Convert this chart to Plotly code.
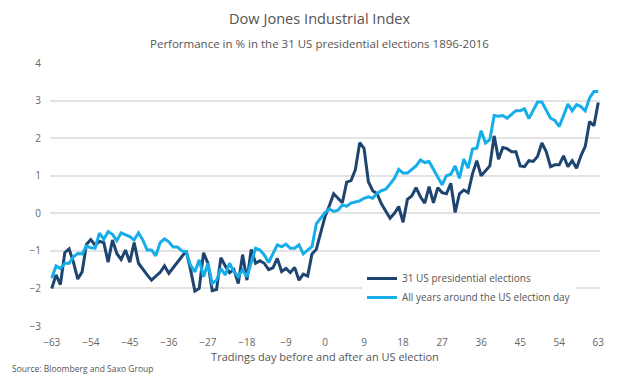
import plotly.graph_objects as go

days = list(range(-63, 64))

elections = [
    -2.0, -1.64, -1.9, -1.05, -0.95, -1.3, -1.75, -1.56, -0.83, -0.7,
    -0.85, -0.75, -0.78, -1.3, -0.71, -1.07, -1.23, -0.98, -1.3, -0.78,
    -1.33, -1.5, -1.64, -1.78, -1.68, -1.57, -1.4, -1.6, -1.45, -1.3,
    -1.15, -1.0, -1.5, -2.07, -2.0, -1.05, -1.33, -2.06, -2.03, -1.18,
    -1.4, -1.58,
    -1.5, -1.87, -1.1, -1.78, -0.96, -1.33, -1.26, -1.33, -1.5, -1.45,
    -1.2, -1.55, -1.47, -1.58, -1.44, -1.78, -1.62, -1.67, -1.08, -0.96,
    -0.52, -0.09, 0.2, 0.52, 0.4, 0.28, 0.83, 0.87, 1.16, 1.88,
    1.73, 0.84, 0.6, 0.52, 0.25, 0.04, -0.13, 0.0, 0.18,
    -0.24, 0.37, 0.46, 0.68, 0.44, 0.27, 0.71, 0.28, 0.68, 0.55,
    0.52, 0.8, 0.02, 0.52, 0.62, 0.55, 1.05, 1.4, 1.0, 1.14,
    1.26, 2.06, 1.44, 1.75, 1.72, 1.64, 1.64, 1.26, 1.24, 1.4,
    1.38, 1.51, 1.87, 1.64, 1.24, 1.29, 1.29, 1.53, 1.24, 1.4,
    1.2, 1.53, 1.78, 2.44, 2.33, 2.95,
]

all_years = [
    -1.73, -1.4, -1.47, -1.33, -1.33, -1.16, -1.07, -1.08, -0.87, -0.92,
    -0.93, -0.53, -0.69, -0.49, -0.56, -0.73, -0.52, -0.58, -0.62,
    -0.71, -0.52, -0.71, -0.98, -0.98, -1.13, -0.78, -0.68, -0.76, -0.9,
    -0.9, -1.0, -1.02, -1.38, -1.56, -1.24, -1.69, -1.33, -1.87, -1.78,
    -1.47, -1.64, -1.33,
    -1.55, -1.69, -1.51, -1.69, -1.33, -0.93, -0.98, -1.11, -1.31, -1.08,
    -0.84, -0.89, -0.82, -0.93, -0.93, -0.84, -1.08, -0.98, -0.89,
    -0.28, -0.13, 0.02, 0.12, 0.05, 0.08, 0.22, 0.19, 0.27, 0.3,
    0.33, 0.4, 0.44, 0.4, 0.53, 0.6, 0.64, 0.78, 0.93, 1.17,
    1.07, 1.07, 1.16, 1.26, 1.42, 1.35, 1.38, 1.17, 0.98, 0.76,
    1.0, 1.04, 1.26, 0.93, 1.44, 1.2, 1.71, 1.73, 2.2, 1.87,
    1.96, 2.6, 2.58, 2.6, 2.53, 2.62, 2.73, 2.73, 2.78, 2.52,
    2.76, 2.96, 2.96, 2.76, 2.53, 2.47, 2.31, 2.6, 2.91, 2.73,
    2.89, 2.84, 2.73, 3.07, 3.24, 3.24,
]

x_ticks = list(range(-63, 64, 9))
y_ticks = [-3, -2, -1, 0, 1, 2, 3, 4]

FONT = "Open Sans"
W, H = 633, 384
ML, MR, MT, MB = 50, 33, 63, 58
plot_h = H - MT - MB
plot_w = W - ML - MR


def py(pix):
    return (H - MB - pix) / plot_h


def px(pix):
    return (pix - ML) / plot_w


fig = go.Figure()
fig.add_trace(go.Scatter(
    x=days, y=elections, mode="lines", name="31 US presidential elections",
    line=dict(color="#1d4570", width=3),
))
fig.add_trace(go.Scatter(
    x=days, y=all_years, mode="lines", name="All years around the US election day",
    line=dict(color="#16ade8", width=3),
))

fig.update_layout(
    width=W, height=H,
    margin=dict(l=ML, r=MR, t=MT, b=MB),
    paper_bgcolor="white", plot_bgcolor="white",
    font=dict(family=FONT, color="#555555"),
    showlegend=True,
    legend=dict(
        x=px(362), y=py(264), xanchor="left", yanchor="top",
        bgcolor="white", font=dict(size=10, color="#555555", family=FONT),
        itemwidth=30, tracegroupgap=2,
    ),
    xaxis=dict(
        range=[-63.4, 63.4], tickvals=x_ticks, showgrid=False, zeroline=False,
        showline=False, ticks="", tickfont=dict(size=10, color="#666666"),
        ticklabelstandoff=9,
        title=dict(text="Tradings day before and after an US election",
                   font=dict(size=11, color="#555555"), standoff=1),
    ),
    yaxis=dict(
        range=[-3, 4], tickvals=y_ticks, showgrid=True, gridcolor="#e3e3e3",
        gridwidth=1.5, zeroline=False, showline=False, ticks="",
        tickfont=dict(size=10, color="#666666"), ticklabelstandoff=8,
    ),
    annotations=[
        dict(text="Dow Jones Industrial Index", x=px(320), y=py(18),
             xref="paper", yref="paper", xanchor="center", yanchor="middle",
             showarrow=False, font=dict(size=14.6, color="#555555")),
        dict(text="Performance in % in the 31 US presidential elections 1896-2016",
             x=px(319), y=py(43), xref="paper", yref="paper",
             xanchor="center", yanchor="middle",
             showarrow=False, font=dict(size=11.5, color="#555555")),
        dict(text="Source: Bloomberg and Saxo Group", x=px(10), y=py(368),
             xref="paper", yref="paper", xanchor="left", yanchor="middle",
             showarrow=False, font=dict(size=8.5, color="#555555")),
    ],
)

fig.write_html(
    "out.html",
    config={"displayModeBar": False},
    post_script="document.body.style.margin='0';document.body.style.padding='0';",
)
